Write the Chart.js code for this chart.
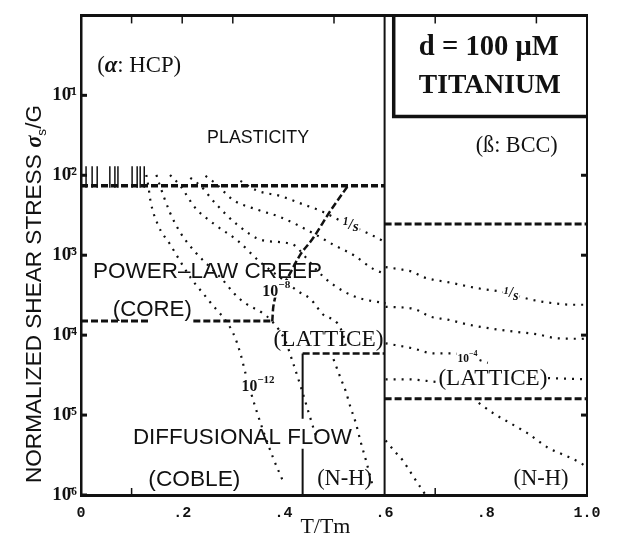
<!DOCTYPE html>
<html><head><meta charset="utf-8">
<script src="https://cdn.jsdelivr.net/npm/chart.js@4.4.1/dist/chart.umd.min.js"></script>
<style>html,body{margin:0;padding:0;background:#fff;}canvas{display:block;}</style>
</head><body>
<canvas id="c" width="618" height="547"></canvas>
<script>
// ---------- axis ticks ----------
const xTickValues = [0, 0.2, 0.4, 0.6, 0.8, 1.0];
const xTickLabels = ['0', '.2', '.4', '.6', '.8', '1.0'];
const yTickValues = [1e-6, 1e-5, 1e-4, 1e-3, 1e-2, 1e-1];
const yTickLabels = ['10\u0304\u2076', '10\u0304\u2075', '10\u0304\u2074', '10\u0304\u00B3', '10\u0304\u00B2', '10\u0304\u00B9'];
const topMinorTicks = [0.1, 0.2, 0.3, 0.5, 0.7, 0.9];
const bottomMinorTicks = [0.1, 0.7];
const rightTicks = [1e-2, 1e-3, 1e-4, 1e-5];

// ---------- field boundaries (T/Tm , sigma_s/G) ----------
const plastAlphaT = [0, 0.6];            const plastAlphaS = [7.4e-3, 7.4e-3];
const plastBetaT = [0.6, 1.0];           const plastBetaS = [2.45e-3, 2.45e-3];
const coreAlphaT = [0, 0.137, 0.18, 0.222, 0.378]; const coreAlphaS = [1.5e-4, 1.5e-4, null, 1.5e-4, 1.5e-4];
const coreLatT = [0.378, 0.380, 0.400, 0.434, 0.457, 0.493, 0.529];
const coreLatS = [1.48e-4, 2.26e-4, 4.25e-4, 1.03e-3, 1.58e-3, 3.6e-3, 7.6e-3];
const latNhAlphaT = [0.438, 0.6];        const latNhAlphaS = [5.9e-5, 5.9e-5];
const latNhBetaT = [0.6, 1.0];           const latNhBetaS = [1.6e-5, 1.6e-5];
const nhCobleT = [0.438, 0.438, 0.438, 0.438, 0.438]; const nhCobleS = [5.9e-5, 9.0e-6, null, 3.8e-6, 1.0e-6];
const alphaBetaT = [0.6, 0.6];           const alphaBetaS = [1, 1e-6];
const boxT = [0.618, 0.618, 1.0];        const boxS = [1, 0.0544, 0.0544];

// ---------- strain-rate contours ----------
const c12T = [0.129, 0.133, 0.137, 0.152, 0.176, 0.216, 0.255, 0.301, 0.315, 0.325, 0.345, 0.378, 0.400];
const c12S = [1.01e-2, 7.4e-3, 4.9e-3, 2.4e-3, 1.37e-3, 5.3e-4, 2.6e-4, 1.05e-4, 5.9e-5, 3.35e-5, 1.23e-5, 3.1e-6, 1.45e-6];
const c10T = [0.149, 0.156, 0.176, 0.196, 0.226, 0.255, 0.279, 0.305, 0.325, 0.358, 0.378, 0.404, 0.418, 0.434, 0.450, 0.467];
const c10S = [1.01e-2, 7.4e-3, 3.4e-3, 1.93e-3, 1.09e-3, 7.1e-4, 5.0e-4, 3.2e-4, 2.5e-4, 1.9e-4, 1.48e-4, 8.4e-5, 4.7e-5, 2.3e-5, 1.07e-5, 4.8e-6];
const c8T = [0.176, 0.196, 0.226, 0.265, 0.309, 0.354, 0.400, 0.430, 0.453, 0.479, 0.507, 0.519, 0.525];
const c8S = [1.01e-2, 7.4e-3, 3.9e-3, 2.4e-3, 1.53e-3, 8.2e-4, 4.9e-4, 3.5e-4, 2.85e-4, 1.80e-4, 1.40e-4, 9.6e-5, 6.3e-5];
const nhAlphaT = [0.499, 0.513, 0.523, 0.533, 0.543, 0.552, 0.564, 0.576];
const nhAlphaS = [5.0e-5, 2.9e-5, 2.0e-5, 1.23e-5, 8.0e-6, 4.8e-6, 2.6e-6, 1.33e-6];
const c6T = [0.216, 0.236, 0.265, 0.309, 0.360, 0.418, 0.444, 0.469, 0.499, 0.543, 0.602];
const c6S = [9.3e-3, 7.4e-3, 4.5e-3, 2.4e-3, 1.53e-3, 1.37e-3, 9.4e-4, 6.2e-4, 4.25e-4, 3.0e-4, 2.5e-4];
const c4T = [0.246, 0.265, 0.301, 0.349, 0.394, 0.463, 0.497, 0.539, 0.578, 0.602];
const c4S = [9.8e-3, 8.0e-3, 4.9e-3, 3.7e-3, 3.0e-3, 1.82e-3, 1.37e-3, 1.0e-3, 6.7e-4, 5.8e-4];
const c0T = [0.315, 0.349, 0.394, 0.440, 0.473, 0.529, 0.572, 0.602];
const c0S = [8.5e-3, 6.4e-3, 5.5e-3, 4.3e-3, 3.6e-3, 2.4e-3, 1.82e-3, 1.45e-3];
const stubT = [0.010, 0.022, 0.032, 0.057, 0.067, 0.073, 0.101, 0.111, 0.117, 0.125];
const stubTopS = 1.3e-2, stubBotS = 7.0e-3;

const b0T = [0.602, 0.628, 0.655, 0.677, 0.725, 0.790, 0.830, 0.883, 0.915, 0.974, 1.0];
const b0S = [7.1e-4, 6.7e-4, 6.2e-4, 5.3e-4, 4.6e-4, 3.8e-4, 3.5e-4, 2.85e-4, 2.6e-4, 2.4e-4, 2.4e-4];
const b2T = [0.602, 0.657, 0.691, 0.725, 0.764, 0.810, 0.855, 0.903, 0.943, 1.0];
const b2S = [2.26e-4, 2.14e-4, 1.70e-4, 1.56e-4, 1.36e-4, 1.21e-4, 1.11e-4, 1.02e-4, 9.1e-5, 9.0e-5];
const b4T = [0.602, 0.657, 0.697, 0.737, 0.770, 0.804];
const b4S = [7.9e-5, 6.8e-5, 5.9e-5, 5.9e-5, 5.3e-5, 4.5e-5];
const b6T = [0.602, 0.646, 0.701, 0.80, 0.923, 1.0];
const b6S = [2.8e-5, 2.8e-5, 2.6e-5, null, 2.9e-5, 2.8e-5];
const b8T = [0.786, 0.816, 0.840, 0.863, 0.883, 0.923, 0.948, 0.988, 1.0];
const b8S = [1.42e-5, 1.04e-5, 8.5e-6, 7.0e-6, 5.9e-6, 3.9e-6, 3.3e-6, 2.5e-6, 2.2e-6];
const b10T = [0.602, 0.622, 0.636, 0.655, 0.681];
const b10S = [4.8e-6, 3.4e-6, 2.7e-6, 1.77e-6, 1.0e-6];

// ---------- text labels (anchors in data units) ----------
const labelTexts = ['(α: HCP)', 'PLASTICITY', '(ß: BCC)', 'd = 100 μM', 'TITANIUM', 'POWER–LAW CREEP', '(CORE)', '(LATTICE)', '(LATTICE)', 'DIFFUSIONAL FLOW', '(COBLE)', '(N-H)', '(N-H)'];
const labelT = [0.115, 0.350, 0.861, 0.806, 0.808, 0.250, 0.141, 0.489, 0.814, 0.319, 0.224, 0.521, 0.909];
const labelS = [0.233, 0.0290, 0.0231, 0.390, 0.132, 6.15e-4, 2.08e-4, 8.8e-5, 2.82e-5, 5.24e-6, 1.53e-6, 1.58e-6, 1.58e-6];
const rateLabelBase = ['1', '10', '10', '1', '10'];
const rateLabelExp = ['/s', '−8', '−12', '/s', '−4'];
const rateLabelT = [0.533, 0.386, 0.350, 0.850, 0.764];
const rateLabelS = [2.4e-3, 3.8e-4, 2.45e-5, 3.3e-4, 5.4e-5];

// ---------- build ----------
const INK = '#111';
function pts(T, S) { return T.map((t, i) => ({x: t, y: S[i]})); }
function dotted(T, S) { return {data: pts(T, S), borderColor: INK, borderWidth: 2.2, borderDash: [2, 6], cubicInterpolationMode: 'monotone', pointRadius: 0, fill: false, spanGaps: false}; }
function dashed(T, S, w, curve) { const d = {data: pts(T, S), borderColor: INK, borderWidth: w, borderDash: [7, 3], tension: 0, pointRadius: 0, fill: false, spanGaps: false}; if (curve) d.cubicInterpolationMode = 'monotone'; return d; }
function solid(T, S, w) { return {data: pts(T, S), borderColor: INK, borderWidth: w, tension: 0, pointRadius: 0, fill: false, spanGaps: false}; }

const stubPts = [];
stubT.forEach(t => { stubPts.push({x: t, y: stubTopS}, {x: t, y: stubBotS}, {x: t, y: null}); });

const datasets = [
  dotted(c12T, c12S), dotted(c10T, c10S), dotted(c8T, c8S), dotted(nhAlphaT, nhAlphaS),
  dotted(c6T, c6S), dotted(c4T, c4S), dotted(c0T, c0S),
  dotted(b0T, b0S), dotted(b2T, b2S), dotted(b4T, b4S), dotted(b6T, b6S), dotted(b8T, b8S), dotted(b10T, b10S),
  {data: stubPts, borderColor: INK, borderWidth: 1.5, pointRadius: 0, spanGaps: false, tension: 0},
  dashed(plastAlphaT, plastAlphaS, 3.5), dashed(plastBetaT, plastBetaS, 3),
  dashed(coreAlphaT, coreAlphaS, 3), dashed(coreLatT, coreLatS, 2.5, true),
  dashed(latNhAlphaT, latNhAlphaS, 2.5), dashed(latNhBetaT, latNhBetaS, 3),
  solid(nhCobleT, nhCobleS, 2), solid(alphaBetaT, alphaBetaS, 2), solid(boxT, boxS, 3.5)
];

function fontStr(s, size) { return (s.st || '') + ' ' + ((s.m || 1) * size).toFixed(2) + 'px ' + (s.f || '"Liberation Serif"'); }
function drawSegs(ctx, segs, cx, cy, targetW, rotate, bg) {
  const base = 20; let total = 0;
  const widths = segs.map(s => { ctx.font = fontStr(s, base); const w = ctx.measureText(s.t).width; total += w; return w; });
  const k = targetW / total;
  ctx.save(); ctx.translate(cx, cy); if (rotate) ctx.rotate(-Math.PI / 2);
  if (bg) { ctx.fillStyle = '#fff'; ctx.fillRect(-targetW / 2 - 1, -base * k * 0.55, targetW + 2, base * k * 1.1); }
  ctx.fillStyle = INK; ctx.textBaseline = 'middle'; ctx.textAlign = 'left';
  let x = -targetW / 2;
  segs.forEach((s, i) => { ctx.font = fontStr(s, base * k); ctx.fillText(s.t, x, (s.dy || 0) * base * k); x += widths[i] * k; });
  ctx.restore();
}
const SANS = '"Liberation Sans"';
const labelWidths = [84, 102, 82, 140, 142, 229, 79, 110, 109, 219, 92, 55, 55];
function labelSegs(i) {
  const t = labelTexts[i];
  if (i === 0) return [{t: '('}, {t: 'α', st: 'bold italic'}, {t: ': HCP)'}];
  if (i === 3 || i === 4) return [{t: t, st: 'bold'}];
  if (i === 1 || i === 5 || i === 6 || i === 9 || i === 10) return [{t: t, f: SANS}];
  return [{t: t}];
}
const rateWidths = [16, 28, 33, 15, 20];

const annot = {
  id: 'annot',
  afterDraw(chart) {
    const ctx = chart.ctx, xs = chart.scales.x, ys = chart.scales.y, a = chart.chartArea;
    ctx.save(); ctx.strokeStyle = INK;
    ctx.lineWidth = 3;
    yTickValues.forEach(v => { const p = ys.getPixelForValue(v); ctx.beginPath(); ctx.moveTo(a.left, p); ctx.lineTo(a.left + 6, p); ctx.stroke(); });
    rightTicks.forEach(v => { const p = ys.getPixelForValue(v); ctx.beginPath(); ctx.moveTo(a.right - 6, p); ctx.lineTo(a.right, p); ctx.stroke(); });
    ctx.lineWidth = 1.5;
    topMinorTicks.forEach(v => { const p = xs.getPixelForValue(v); ctx.beginPath(); ctx.moveTo(p, a.top); ctx.lineTo(p, a.top + 8); ctx.stroke(); });
    bottomMinorTicks.forEach(v => { const p = xs.getPixelForValue(v); ctx.beginPath(); ctx.moveTo(p, a.bottom); ctx.lineTo(p, a.bottom - 7); ctx.stroke(); });
    ctx.restore();
    labelTexts.forEach((t, i) => {
      drawSegs(ctx, labelSegs(i), xs.getPixelForValue(labelT[i]), ys.getPixelForValue(labelS[i]), labelWidths[i], false, false);
    });
    rateLabelBase.forEach((b, i) => {
      const e = rateLabelExp[i];
      const segs = e === '/s'
        ? [{t: '1', st: 'bold italic', m: 0.75, dy: -0.2}, {t: '/', st: 'bold italic'}, {t: 's', st: 'bold italic', dy: 0.15}]
        : [{t: b, st: 'bold', dy: 0.2}, {t: e, st: 'bold', m: 0.7, dy: -0.25}];
      drawSegs(ctx, segs, xs.getPixelForValue(rateLabelT[i]), ys.getPixelForValue(rateLabelS[i]), rateWidths[i], false, true);
    });
    drawSegs(ctx, [{t: 'NORMALIZED SHEAR STRESS ', f: SANS}, {t: 'σ', st: 'bold italic'}, {t: 's', f: SANS, m: 0.6, dy: 0.3}, {t: '/G', f: SANS}], 35, 294, 378, true, false);
    drawSegs(ctx, [{t: 'T'}, {t: '/'}, {t: 'Tm'}], xs.getPixelForValue(0.483), 527, 50, false, false);
  }
};

new Chart(document.getElementById('c'), {
  type: 'line',
  data: {datasets},
  options: {
    responsive: false, animation: false, events: [],
    layout: {padding: 0},
    plugins: {legend: {display: false}, tooltip: {enabled: false}},
    elements: {point: {radius: 0}},
    scales: {
      x: {
        type: 'linear', position: 'bottom', min: 0, max: 1,
        afterFit: s => { s.height = 52; },
        afterBuildTicks: ax => { ax.ticks = xTickValues.map(v => ({value: v})); },
        grid: {display: false, drawTicks: false},
        border: {display: true, color: INK, width: 3, dash: [8, 3]},
        ticks: {autoSkip: false, maxRotation: 0, padding: 9, color: INK, font: {family: '"Liberation Mono"', size: 15, weight: 'bold'},
          callback: v => { const i = xTickValues.indexOf(v); return i >= 0 ? xTickLabels[i] : ''; }}
      },
      y: {
        type: 'logarithmic', position: 'left', min: 1e-6, max: 1,
        afterFit: s => { s.width = 81; },
        afterBuildTicks: ax => { ax.ticks = yTickValues.map(v => ({value: v})); },
        grid: {display: false, drawTicks: false},
        border: {display: true, color: INK, width: 2.5},
        ticks: {autoSkip: false, padding: 4, color: INK, font: {family: '"Liberation Serif"', size: 19, weight: 'bold'},
          callback: v => { const i = yTickValues.indexOf(v); return i >= 0 ? yTickLabels[i] : ''; }}
      },
      xTop: {
        type: 'linear', position: 'top', min: 0, max: 1,
        afterFit: s => { s.height = 11; },
        grid: {display: false, drawTicks: false}, ticks: {display: false},
        border: {display: true, color: INK, width: 3, dash: [8, 3]}
      },
      yRight: {
        type: 'linear', position: 'right', min: 0, max: 1,
        afterFit: s => { s.width = 31; },
        grid: {display: false, drawTicks: false}, ticks: {display: false},
        border: {display: true, color: INK, width: 2}
      }
    }
  },
  plugins: [annot]
});
</script>
</body></html>
